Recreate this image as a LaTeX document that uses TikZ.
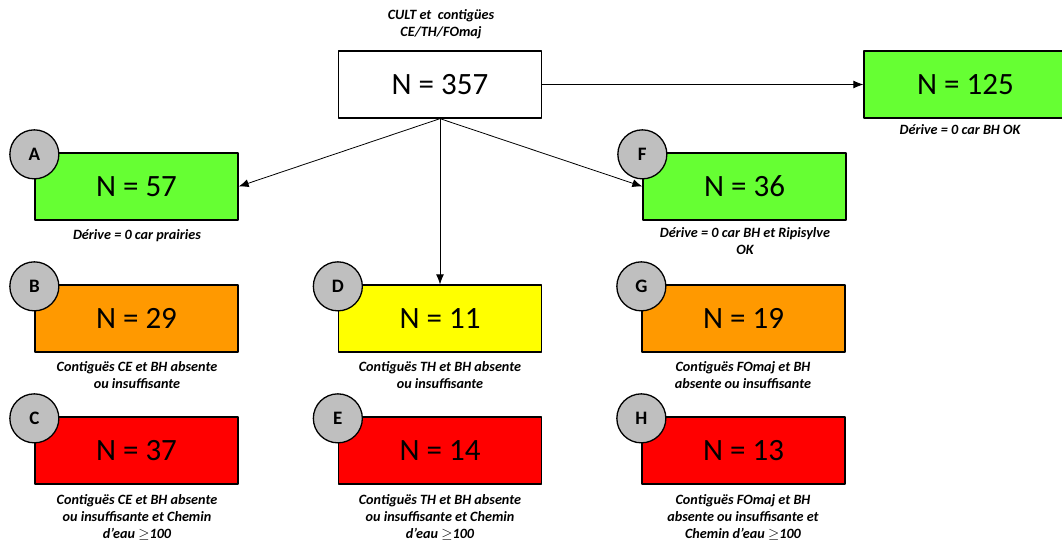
\documentclass[tikz,border=0pt]{standalone}
\usepackage{fontspec}
\setmainfont{Carlito}
\usetikzlibrary{positioning,arrows.meta}
\definecolor{vertN}{HTML}{66FF33}
\definecolor{orangeN}{HTML}{FF9900}
\definecolor{jauneN}{HTML}{FFFF00}
\definecolor{rougeN}{HTML}{FF0000}
\tikzset{
	effectif/.style={draw,line width=1.3pt,minimum width=203pt,minimum height=67pt,inner sep=0pt,font=\fontsize{31}{34}\selectfont},
	legende/.style={align=center,inner sep=0pt,anchor=north,font=\fontsize{14.2}{17}\selectfont\bfseries\itshape},
	lettre/.style={circle,draw,line width=1.3pt,fill=gray!50,minimum size=49pt,inner sep=0pt,font=\fontsize{19}{19}\selectfont\bfseries},
}
\begin{document}
\begin{tikzpicture}[>={Latex[length=10pt,width=8pt]},line join=round,x=1pt,y=-1pt]
	\useasboundingbox (0,0) rectangle (1062,546);
	% racine
	\node[legende] (titre) at (441,9) {CULT et~~contigües\\CE/TH/FOmaj};
	\node[effectif] (tot) at (440,84.5) {N = 357};
	\node[effectif,fill=vertN] (ok) at (965.5,84.5) {N = 125};
	\node[legende] (legok) at (960,124) {Dérive = 0 car BH OK};
	% colonne CE
	\node[effectif,fill=vertN] (a) at (136.5,186.5) {N = 57};
	\node[effectif,fill=orangeN] (b) at (136.5,318.5) {N = 29};
	\node[effectif,fill=rougeN] (c) at (136.5,450.5) {N = 37};
	% colonne TH
	\node[effectif,fill=jauneN] (d) at (440,318.5) {N = 11};
	\node[effectif,fill=rougeN] (e) at (440,450.5) {N = 14};
	% colonne FOmaj
	\node[effectif,fill=vertN] (f) at (744.5,186.5) {N = 36};
	\node[effectif,fill=orangeN] (g) at (743.5,318.5) {N = 19};
	\node[effectif,fill=rougeN] (h) at (743.5,450.5) {N = 13};
	% lettres
	\foreach \n/\l in {a/A,b/B,c/C,d/D,e/E,f/F,g/G,h/H}
		\node[lettre] (rond\n) at ([yshift=-2pt]\n.north west) {\l};
	% legendes
	\node[legende] (lega) at (137,229) {Dérive = 0 car prairies};
	\node[legende] (legb) at (137,361) {Contiguës CE et BH absente\\ou insuffisante};
	\node[legende] (legc) at (137,494) {Contiguës CE et BH absente\\ou insuffisante et Chemin\\d’eau $\geq$100};
	\node[legende] (legd) at (440,361) {Contiguës TH et BH absente\\ou insuffisante};
	\node[legende] (lege) at (440,494) {Contiguës TH et BH absente\\ou insuffisante et Chemin\\d’eau $\geq$100};
	\node[legende] (legf) at (745,227) {Dérive = 0 car BH et Ripisylve\\OK};
	\node[legende] (legg) at (743,361) {Contiguës FOmaj et BH\\absente ou insuffisante};
	\node[legende] (legh) at (743,494) {Contiguës FOmaj et BH\\absente ou insuffisante et\\Chemin d’eau $\geq$100};
	% fleches
	\draw[->,line width=0.8pt] (tot.east) -- (ok.west);
	\draw[->,line width=0.8pt] (tot.south) -- (a.east);
	\draw[->,line width=0.8pt] (tot.south) -- (d.north);
	\draw[->,line width=0.8pt] (tot.south) -- (f.west);
\end{tikzpicture}
\end{document}
